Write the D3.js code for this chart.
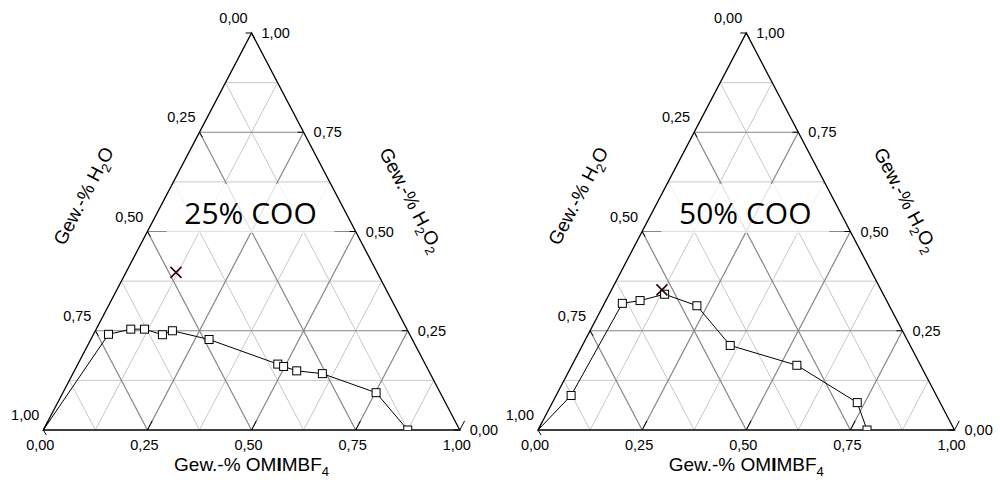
<!DOCTYPE html>
<html>
<head>
<meta charset="utf-8">
<script src="https://cdn.jsdelivr.net/npm/d3@7"></script>
<style>
  html, body { margin: 0; padding: 0; background: #fff; }
  svg { display: block; }
  text { font-family: "Liberation Sans", Arial, sans-serif; fill: #000; }
</style>
</head>
<body>
<svg id="chart" width="1000" height="487"></svg>
<script>
// ---- data ----
const tickValues = [0, 0.25, 0.5, 0.75, 1];
const tickLabels = ["0,00", "0,25", "0,50", "0,75", "1,00"];
const panelTitles = ["25% COO", "50% COO"];

// panel 1 (25% COO): OMIMBF4 and H2O2 mass fractions (H2O = 1 - both)
const omimbf4_25 = [0, 0.036, 0.083, 0.116, 0.166, 0.185, 0.284, 0.480, 0.497, 0.534, 0.599, 0.752, 0.875];
const h2o2_25    = [0, 0.241, 0.254, 0.254, 0.240, 0.250, 0.228, 0.166, 0.160, 0.149, 0.142, 0.094, 0.000];
const cross25 = { omimbf4: 0.120, h2o2: 0.397 };

// panel 2 (50% COO)
const omimbf4_50 = [0, 0.036, 0.043, 0.082, 0.133, 0.225, 0.355, 0.540, 0.732, 0.790];
const h2o2_50    = [0, 0.087, 0.319, 0.326, 0.342, 0.313, 0.213, 0.163, 0.069, 0.000];
const cross50 = { omimbf4: 0.121, h2o2: 0.353 };

const panels = [
  { title: panelTitles[0], b: omimbf4_25, h: h2o2_25, cross: cross25, x0: 43.3 },
  { title: panelTitles[1], b: omimbf4_50, h: h2o2_50, cross: cross50, x0: 538.0 }
];

const W = 416.5, yBase = 430, yTop = 33;
const svg = d3.select("#chart");
const angle = Math.atan2(yBase - yTop, W / 2) * 180 / Math.PI;

panels.forEach((p, pi) => {
  const xs = d3.scaleLinear().domain([0, 1]).range([p.x0, p.x0 + W]);
  const ys = d3.scaleLinear().domain([0, 1]).range([yBase, yTop]);
  const P = (b, h) => [xs(b + h / 2), ys(h)];
  const g = svg.append("g");

  const clipId = "clip" + pi;
  const tri = [P(0, 0), P(1, 0), P(0, 1)];
  g.append("clipPath").attr("id", clipId)
    .append("polygon").attr("points", tri.map(d => d.join(",")).join(" "));

  // grid lines
  const grid = [];
  for (let k = 1; k < 8; k++) {
    const v = k / 8, major = k % 2 === 0;
    grid.push({ a: P(0, v), b: P(1 - v, v), major });      // const H2O2
    grid.push({ a: P(v, 0), b: P(v, 1 - v), major });      // const OMIMBF4
    grid.push({ a: P(1 - v, 0), b: P(0, 1 - v), major });  // const H2O
  }
  g.selectAll("line.minor").data(grid.filter(d => !d.major)).enter().append("line")
    .attr("x1", d => d.a[0]).attr("y1", d => d.a[1]).attr("x2", d => d.b[0]).attr("y2", d => d.b[1])
    .attr("stroke", "#c8c8c8").attr("stroke-width", 1);
  g.selectAll("line.major").data(grid.filter(d => d.major)).enter().append("line")
    .attr("x1", d => d.a[0]).attr("y1", d => d.a[1]).attr("x2", d => d.b[0]).attr("y2", d => d.b[1])
    .attr("stroke", "#858585").attr("stroke-width", 1.2);

  // translucent label box + panel title
  const cx = p.x0 + W / 2 - 1;
  g.append("rect").attr("x", cx - 84).attr("y", 184).attr("width", 168).attr("height", 49)
    .attr("fill", "#fff").attr("opacity", 0.75);
  g.append("text").attr("x", cx).attr("y", 224).attr("text-anchor", "middle")
    .style("font-family", "'Open Sans', sans-serif").style("font-size", "30px")
    .text(p.title);

  // triangle
  g.append("polygon").attr("points", tri.map(d => d.join(",")).join(" "))
    .attr("fill", "none").attr("stroke", "#000").attr("stroke-width", 1.3);

  // ticks (inward along grid directions)
  const tl = 6 / W;
  tickValues.forEach(v => {
    let a = P(v, 0), c = P(v, tl * 1.6);
    g.append("line").attr("x1", a[0]).attr("y1", a[1]).attr("x2", c[0]).attr("y2", c[1]).attr("stroke", "#000");
    a = P(1 - v, v); c = [a[0] - 6, a[1]];
    g.append("line").attr("x1", a[0]).attr("y1", a[1]).attr("x2", c[0]).attr("y2", c[1]).attr("stroke", "#000");
    a = P(0, 1 - v); c = [a[0] + 3, a[1] + 5];
    g.append("line").attr("x1", a[0]).attr("y1", a[1]).attr("x2", c[0]).attr("y2", c[1]).attr("stroke", "#000");
  });

  // tick labels
  tickValues.forEach((v, i) => {
    const lab = tickLabels[i];
    const pb = P(v, 0);
    g.append("text").attr("x", pb[0] - 3).attr("y", 450).attr("text-anchor", "middle")
      .style("font-size", "14.5px").text(lab);
    const pl = P(0, 1 - v);
    g.append("text").attr("x", pl[0] - 4).attr("y", pl[1] - 10).attr("text-anchor", "end")
      .style("font-size", "14.5px").text(lab);
    const pr = P(1 - v, v);
    g.append("text").attr("x", pr[0] + 10).attr("y", pr[1] + 5).attr("text-anchor", "start")
      .style("font-size", "14.5px").text(lab);
  });

  // axis titles
  const tb = g.append("text").attr("x", p.x0 + W / 2).attr("y", 471).attr("text-anchor", "middle")
    .style("font-size", "19px");
  tb.append("tspan").text("Gew.-% OM");
  tb.append("tspan").style("font-weight", "bold").text("I");
  tb.append("tspan").text("MBF");
  tb.append("tspan").attr("dy", 5).style("font-size", "13px").text("4");

  const tlft = g.append("text")
    .attr("transform", `translate(${p.x0 + 46},199) rotate(${-angle})`)
    .attr("text-anchor", "middle").style("font-size", "19px");
  tlft.append("tspan").text("Gew.-% H");
  tlft.append("tspan").attr("dy", 5).style("font-size", "13px").text("2");
  tlft.append("tspan").attr("dy", -5).text("O");

  const trt = g.append("text")
    .attr("transform", `translate(${p.x0 + 362},203) rotate(${angle})`)
    .attr("text-anchor", "middle").style("font-size", "19px");
  trt.append("tspan").text("Gew.-% H");
  trt.append("tspan").attr("dy", 5).style("font-size", "13px").text("2");
  trt.append("tspan").attr("dy", -5).text("O");
  trt.append("tspan").attr("dy", 5).style("font-size", "13px").text("2");

  // data line
  const pts = p.b.map((b, i) => P(b, p.h[i]));
  g.append("path").attr("d", d3.line()(pts)).attr("fill", "none")
    .attr("stroke", "#000").attr("stroke-width", 1);

  // markers (skip pure-water vertex)
  const mg = g.append("g").attr("clip-path", `url(#${clipId})`);
  mg.selectAll("rect.m").data(pts.slice(1)).enter().append("rect")
    .attr("x", d => d[0] - 4).attr("y", d => d[1] - 4).attr("width", 8).attr("height", 8)
    .attr("fill", "#fff").attr("stroke", "#000").attr("stroke-width", 1);

  // cross marker
  const cp = P(p.cross.omimbf4, p.cross.h2o2);
  const s = 5.5;
  g.append("path")
    .attr("d", `M${cp[0] - s},${cp[1] - s}L${cp[0] + s},${cp[1] + s}M${cp[0] - s},${cp[1] + s}L${cp[0] + s},${cp[1] - s}`)
    .attr("stroke", "#2a0505").attr("stroke-width", 1.6);
});
</script>
</body>
</html>
